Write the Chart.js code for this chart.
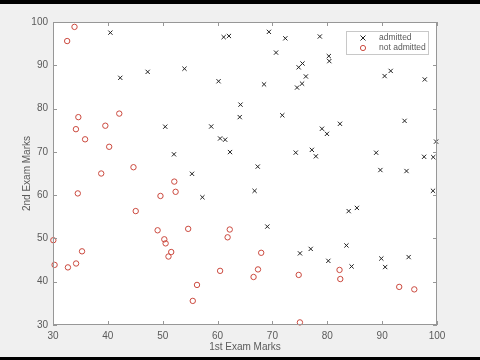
<!DOCTYPE html>
<html>
<head>
<meta charset="utf-8">
<script src="https://cdn.jsdelivr.net/npm/chart.js@4"></script>
<style>
  html, body { margin:0; padding:0; background:#f0f0f0; }
  #wrap { width:480px; height:360px; position:relative; }
</style>
</head>
<body>
<div id="wrap"><canvas id="c" width="480" height="360"></canvas></div>
<script>
// ---- Datos (exam 1, exam 2)
const admittedX = [60.18,79.03,61.11,75.02,76.10,84.43,82.31,69.36,53.97,69.07,70.66,76.98,89.68,77.92,62.27,80.19,61.38,85.40,52.05,64.18,
  83.90,94.44,77.19,97.77,62.07,91.56,79.94,99.27,90.55,97.65,74.25,71.80,75.40,40.46,80.28,66.75,64.04,72.35,60.46,58.84,
  99.83,47.26,50.46,88.91,94.83,67.32,57.24,80.37,68.47,75.48,78.64,94.09,90.45,74.49,89.85,83.49,42.26,99.32,55.34,74.78];
const admittedY = [86.31,75.34,96.51,46.55,87.42,43.53,76.48,97.72,89.21,52.74,92.93,47.58,65.80,68.97,69.95,44.82,72.81,57.05,69.43,80.91,
  56.31,65.57,70.46,86.73,96.77,88.70,74.16,61.00,43.39,68.86,69.82,78.45,85.76,97.54,92.12,60.99,78.03,96.23,73.09,75.86,
  72.37,88.48,75.81,69.80,45.69,66.59,59.51,90.96,85.59,90.42,96.65,77.16,87.51,84.85,45.36,48.38,87.10,68.78,64.93,89.53];
const rejectedX = [34.62,30.29,35.85,45.08,95.86,75.01,39.54,67.95,67.37,50.53,34.21,93.11,61.83,38.79,52.11,40.24,54.64,33.92,74.79,34.18,
  51.55,82.37,51.05,62.22,34.52,50.29,49.59,32.58,35.29,56.25,30.06,44.67,66.56,49.07,32.72,60.46,82.23,42.08,52.35,55.48];
const rejectedY = [78.02,43.89,72.90,56.32,38.23,30.60,76.04,46.68,42.84,48.86,44.21,38.80,50.26,65.00,63.13,71.17,52.21,98.87,41.57,75.24,
  46.86,40.62,45.82,52.06,60.40,49.80,59.81,95.60,47.02,39.26,49.59,66.45,41.09,51.88,43.31,42.51,42.72,78.84,60.77,35.57];
const tickValues = [30,40,50,60,70,80,90,100];
const seriesNames = ['admitted','not admitted'];

const RED = '#cc4a3f';
const AXIS = '#979797';
const TXT = '#5a5a5a';
const FONT = 'Liberation Sans, Arial, sans-serif';

const toPts = (xs, ys) => xs.map((x, i) => ({ x, y: ys[i] }));

// ---- Plugins: fondo, caja con ticks internos, leyenda
const framePlugin = {
  id: 'frame',
  beforeDraw(chart){
    const { ctx, chartArea: a } = chart;
    ctx.save();
    ctx.fillStyle = '#f0f0f0';
    ctx.fillRect(0, 0, chart.width, chart.height);
    ctx.fillStyle = '#000';
    ctx.fillRect(0, 0, chart.width, 4);
    ctx.fillRect(0, 357, chart.width, 3);
    ctx.fillStyle = '#fff';
    ctx.fillRect(a.left, a.top, a.right - a.left, a.bottom - a.top);
    ctx.restore();
  },
  afterDatasetsDraw(chart){
    const { ctx, chartArea: a, scales } = chart;
    ctx.save();
    ctx.strokeStyle = AXIS;
    ctx.lineWidth = 1;
    ctx.strokeRect(a.left + 0.5, a.top + 0.5, a.right - a.left - 1, a.bottom - a.top - 1);
    ctx.beginPath();
    tickValues.forEach(v => {
      const px = Math.round(scales.x.getPixelForValue(v)) + 0.5;
      ctx.moveTo(px, a.bottom); ctx.lineTo(px, a.bottom - 4);
      ctx.moveTo(px, a.top); ctx.lineTo(px, a.top + 4);
      const py = Math.round(scales.y.getPixelForValue(v)) + 0.5;
      ctx.moveTo(a.left, py); ctx.lineTo(a.left + 4, py);
      ctx.moveTo(a.right, py); ctx.lineTo(a.right - 4, py);
    });
    ctx.stroke();

    // leyenda
    const lx = 346, ly = 31, lw = 82, lh = 23;
    ctx.fillStyle = '#fff';
    ctx.fillRect(lx, ly, lw, lh);
    ctx.strokeStyle = '#c8c8c8';
    ctx.strokeRect(lx + 0.5, ly + 0.5, lw, lh);
    ctx.font = '8.5px ' + FONT;
    ctx.fillStyle = TXT;
    ctx.textBaseline = 'middle';
    ctx.fillText(seriesNames[0], lx + 33, ly + 7);
    ctx.fillText(seriesNames[1], lx + 33, ly + 17);
    ctx.strokeStyle = '#222';
    ctx.beginPath();
    const cx = lx + 17, c1 = ly + 7;
    ctx.moveTo(cx - 2.5, c1 - 2.5); ctx.lineTo(cx + 2.5, c1 + 2.5);
    ctx.moveTo(cx + 2.5, c1 - 2.5); ctx.lineTo(cx - 2.5, c1 + 2.5);
    ctx.stroke();
    ctx.strokeStyle = RED;
    ctx.beginPath();
    ctx.arc(cx, ly + 17, 2.6, 0, Math.PI * 2);
    ctx.stroke();
    ctx.restore();
  }
};

const axisCommon = {
  type: 'linear',
  min: 30, max: 100,
  border: { display: false },
  grid: { display: false, drawTicks: false },
  ticks: { stepSize: 10, color: TXT, font: { family: FONT, size: 10 }, padding: 5 }
};

new Chart(document.getElementById('c'), {
  type: 'scatter',
  data: {
    datasets: [
      { label: seriesNames[0], data: toPts(admittedX, admittedY), pointStyle: 'crossRot',
        radius: 3, borderColor: '#222', borderWidth: 1, backgroundColor: '#222', clip: false },
      { label: seriesNames[1], data: toPts(rejectedX, rejectedY), pointStyle: 'circle',
        radius: 2.7, borderColor: RED, borderWidth: 1, backgroundColor: 'rgba(0,0,0,0)', clip: false }
    ]
  },
  options: {
    responsive: false,
    animation: false,
    events: [],
    layout: { padding: { top: 22, right: 43, left: 0, bottom: 0 } },
    scales: {
      x: { ...axisCommon, position: 'bottom',
        title: { display: true, text: '1st Exam Marks', color: TXT, font: { family: FONT, size: 10 }, padding: { top: 0, bottom: 7 } },
        afterFit(s){ s.height = 35; } },
      y: { ...axisCommon, position: 'left',
        title: { display: true, text: '2nd Exam Marks', color: TXT, font: { family: FONT, size: 10 }, padding: { top: 21, bottom: 0 } },
        afterFit(s){ s.width = 53; } }
    },
    plugins: { legend: { display: false }, tooltip: { enabled: false } }
  },
  plugins: [framePlugin]
});
</script>
</body>
</html>
